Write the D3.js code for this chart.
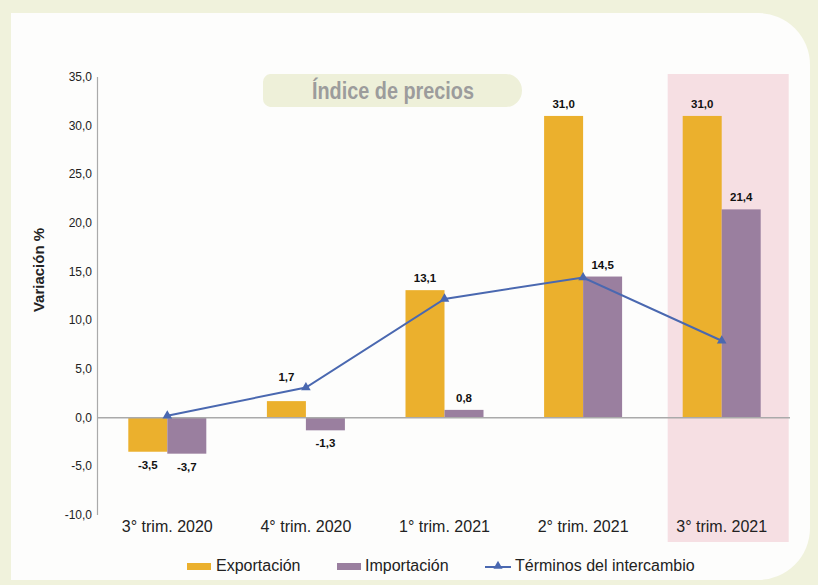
<!DOCTYPE html>
<html><head><meta charset="utf-8">
<script src="https://cdn.jsdelivr.net/npm/d3@7"></script>
<style>body{margin:0;background:#f0f2dc;}svg{display:block;font-family:"Liberation Sans",Arial,sans-serif;}</style>
</head><body>
<svg id="c" width="818" height="585"></svg>
<script>
const categories = ["3° trim. 2020","4° trim. 2020","1° trim. 2021","2° trim. 2021","3° trim. 2021"];
const exportacion = [-3.5, 1.7, 13.1, 31.0, 31.0];
const importacion = [-3.7, -1.3, 0.8, 14.5, 21.4];
const terminos = [0.2, 3.1, 12.2, 14.4, 7.9];
const yTicks = [-10,-5,0,5,10,15,20,25,30,35];
const seriesNames = ["Exportación","Importación","Términos del intercambio"];
const colors = {exp:"#ebb02d", imp:"#9a7f9f", line:"#4a68b0"};

const svg = d3.select("#c");
svg.append("rect").attr("width",818).attr("height",585).attr("fill","#f0f2dc");
const px0=11, py0=13, px1=810, py1=580, r=52;
svg.append("path").attr("fill","#fdfdfc")
  .attr("d",`M${px0},${py0} H${px1-r} A${r},${r} 0 0 1 ${px1},${py0+r} V${py1-r} A${r},${r} 0 0 1 ${px1-r},${py1} H${px0} Z`);

const x = d3.scaleBand().domain(categories).range([98,791]);
const y = d3.scaleLinear().domain([-10,35]).range([515,77]);
const barW = 39;
const cx = i => x(categories[i]) + x.bandwidth()/2;

// highlight of last quarter
svg.append("rect").attr("x",cx(4)-54).attr("y",74).attr("width",121).attr("height",468).attr("fill","#f6dfe3");

// title box
svg.append("path").attr("fill","#eef0d9")
  .attr("d","M270,74 H506 A16,16.5 0 0 1 506,107 H270 A8,8 0 0 1 263,99 V82 A8,8 0 0 1 270,74 Z");
svg.append("text").attr("x",312).attr("y",99)
  .attr("textLength",162).attr("lengthAdjust","spacingAndGlyphs")
  .attr("font-weight","bold").attr("font-size",23).attr("fill","#9c9c9c").text("Índice de precios");

// y axis
svg.append("line").attr("x1",97.5).attr("x2",97.5).attr("y1",y(35)).attr("y2",y(-10)).attr("stroke","#aaa").attr("stroke-width",1.2);
const fmt = d=>d3.format(".1f")(d).replace(".",",").replace("\u2212","-");
svg.selectAll(".yt").data(yTicks).join("text").attr("x",92).attr("y",d=>y(d)+4).attr("text-anchor","end")
  .attr("font-size",12).attr("fill","#222").text(fmt);
svg.append("text").attr("transform","translate(44,270) rotate(-90)").attr("text-anchor","middle")
  .attr("font-size",15).attr("font-weight","bold").attr("fill","#222").text("Variación %");

// bars
const g = svg.append("g");
g.selectAll(".be").data(exportacion).join("rect")
  .attr("x",(d,i)=>cx(i)-barW).attr("width",barW)
  .attr("y",d=>y(Math.max(0,d))).attr("height",d=>Math.abs(y(d)-y(0))).attr("fill",colors.exp);
g.selectAll(".bi").data(importacion).join("rect")
  .attr("x",(d,i)=>cx(i)).attr("width",barW)
  .attr("y",d=>y(Math.max(0,d))).attr("height",d=>Math.abs(y(d)-y(0))).attr("fill",colors.imp);

// zero line
svg.append("line").attr("x1",97).attr("x2",790).attr("y1",y(0)).attr("y2",y(0)).attr("stroke","#aaa").attr("stroke-width",1.5);

// value labels (lifted above the line where they would collide)
function labels(data, off, lineData){
  svg.selectAll(null).data(data).join("text")
    .attr("x",(d,i)=>cx(i)+off)
    .attr("y",(d,i)=>{
      if (d < 0) return y(d)+17;
      let yy = y(d)-8;
      const ly = y(lineData[i]);
      if (Math.abs(yy-4-ly) < 10 && ly < y(d)) yy = ly-6;
      return yy;
    })
    .attr("text-anchor","middle").attr("font-size",11.5).attr("font-weight","bold").attr("fill","#111")
    .text(fmt);
}
labels(exportacion,-barW/2,terminos);
labels(importacion,barW/2,terminos);

// line
const line = d3.line().x((d,i)=>cx(i)).y(d=>y(d));
svg.append("path").datum(terminos).attr("d",line).attr("fill","none").attr("stroke",colors.line).attr("stroke-width",2);
svg.selectAll(".tri").data(terminos).join("path")
  .attr("transform",(d,i)=>`translate(${cx(i)},${y(d)})`)
  .attr("d",d3.symbol(d3.symbolTriangle,40)).attr("fill",colors.line);

// x labels
svg.selectAll(".xl").data(categories).join("text")
  .attr("x",d=>x(d)+x.bandwidth()/2).attr("y",532).attr("text-anchor","middle")
  .attr("font-size",16).attr("fill","#222").text(d=>d);

// legend
const lg = svg.append("g");
lg.append("rect").attr("x",187).attr("y",563).attr("width",24).attr("height",7).attr("fill",colors.exp);
lg.append("text").attr("x",216).attr("y",571).attr("font-size",16).attr("fill","#222").text(seriesNames[0]);
lg.append("rect").attr("x",337).attr("y",563).attr("width",24).attr("height",7).attr("fill",colors.imp);
lg.append("text").attr("x",365).attr("y",571).attr("font-size",16).attr("fill","#222").text(seriesNames[1]);
lg.append("line").attr("x1",485).attr("x2",511).attr("y1",567).attr("y2",567).attr("stroke",colors.line).attr("stroke-width",2);
lg.append("path").attr("transform","translate(498,566)").attr("d",d3.symbol(d3.symbolTriangle,36)).attr("fill",colors.line);
lg.append("text").attr("x",515).attr("y",571).attr("font-size",16).attr("fill","#222").text(seriesNames[2]);
</script>
</body></html>
